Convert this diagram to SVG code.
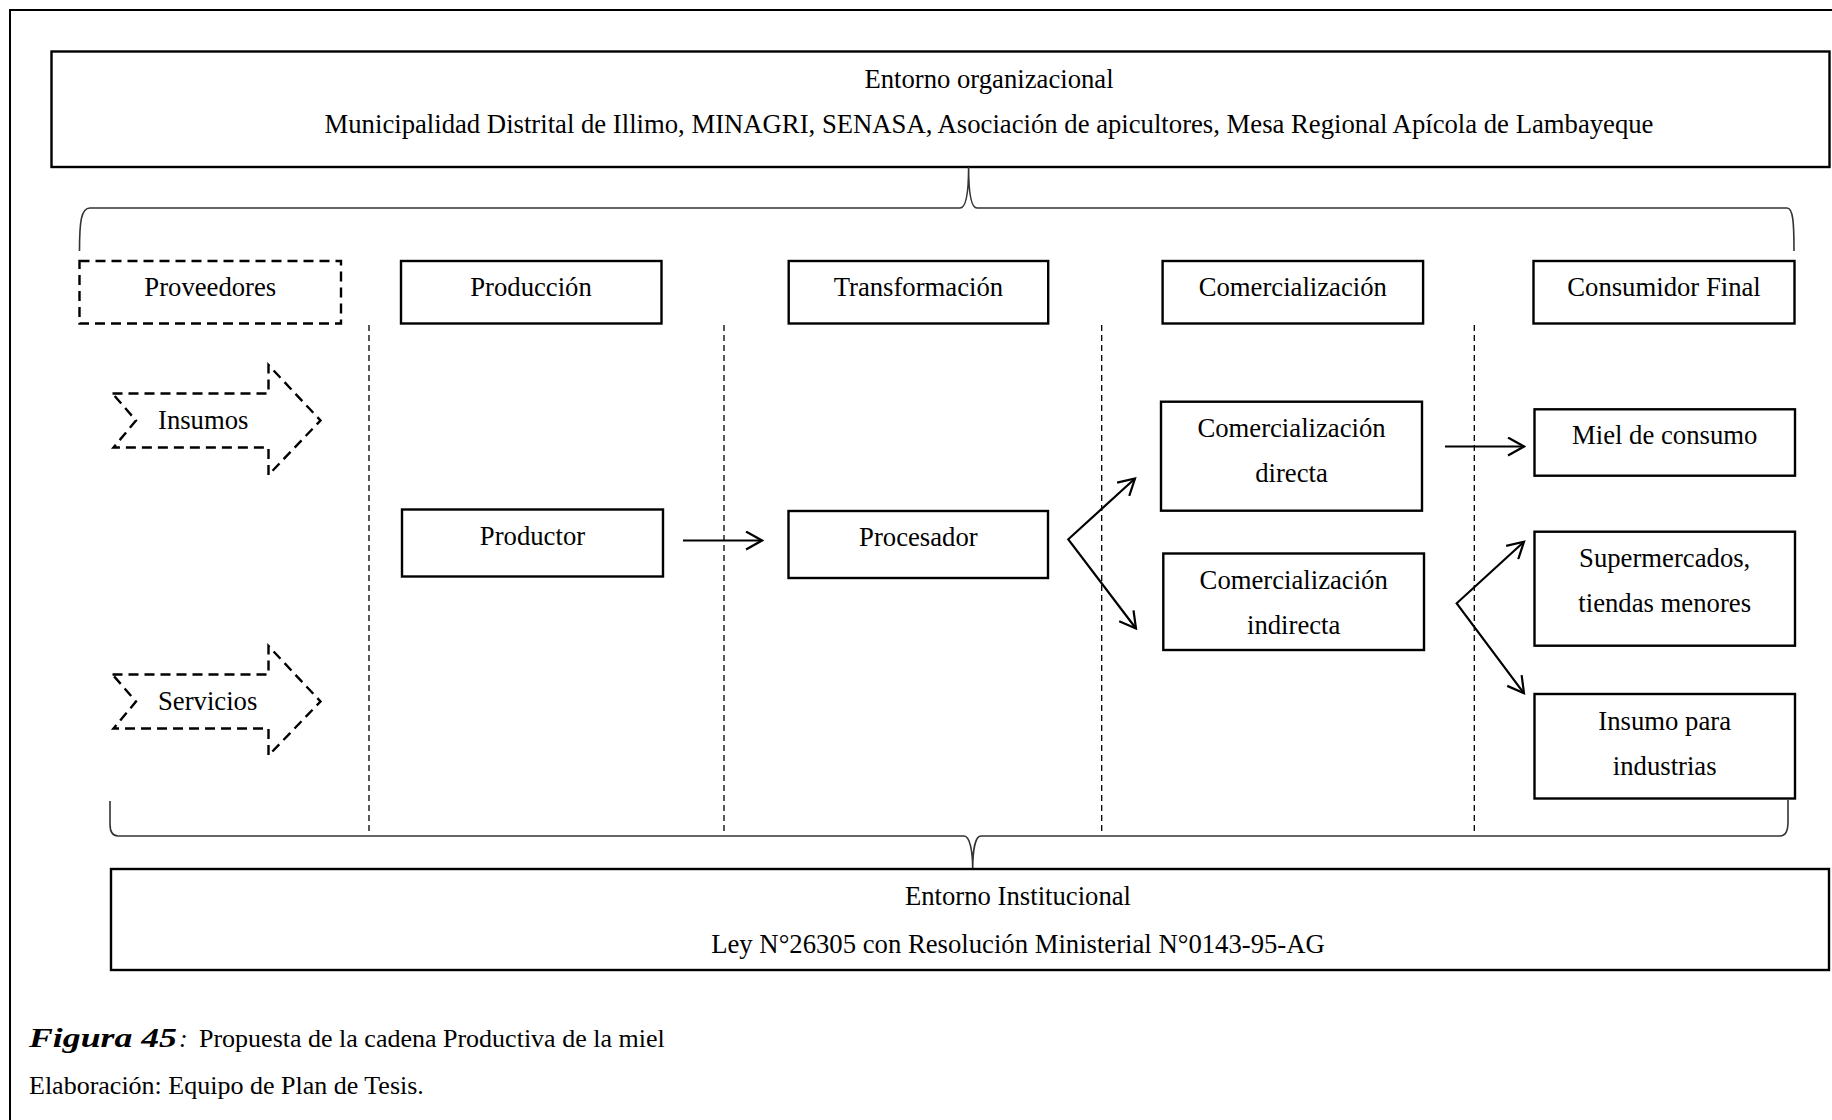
<svg xmlns="http://www.w3.org/2000/svg" width="1832" height="1120" viewBox="0 0 1832 1120">
<style>
text{font-family:"Liberation Serif","Times New Roman",serif;font-size:26.7px;fill:#000}
.c{text-anchor:middle}
.cap{font-size:26px}
.box{fill:#fff;stroke:#000;stroke-width:2.4}
.dbox{fill:none;stroke:#000;stroke-width:2.4;stroke-dasharray:10,6}
.div{stroke:#000;stroke-width:1.3;stroke-dasharray:6,4;fill:none}
.brace{fill:none;stroke:#333;stroke-width:1.6}
.arr{fill:none;stroke:#000;stroke-width:2.2}
</style>
<defs>
<marker id="ah" viewBox="0 0 20 20" refX="18" refY="10" markerWidth="20" markerHeight="20" markerUnits="userSpaceOnUse" orient="auto-start-reverse">
<path d="M2,1 L18,10 L2,19" fill="none" stroke="#000" stroke-width="2.2"/>
</marker>
</defs>
<rect width="1832" height="1120" fill="#fff"/>
<rect x="10" y="10" width="1840" height="1130" fill="none" stroke="#000" stroke-width="2"/>

<g id="entorno-organizacional">
<rect class="box" x="51.5" y="51.5" width="1778" height="115.5"/>
<text class="c" x="989" y="88">Entorno organizacional</text>
<text class="c" x="989" y="133">Municipalidad Distrital de Illimo, MINAGRI, SENASA, Asociación de apicultores, Mesa Regional Apícola de Lambayeque</text>
</g>

<g id="braces">
<path class="brace" d="M79.5,251 C79.5,222 81,208 90,208 L960,208 C966,208 968.6,192 968.6,167 C968.6,192 971,208 977,208 L1787,208 C1793,208 1794,222 1794,251"/>
<path class="brace" d="M110,801 L110,824 C110,832 112,836 118,836 L964,836 C970,836 972.7,852 972.7,869 C972.7,852 975,836 981,836 L1780,836 C1786,836 1788,830 1788,822 L1788,800"/>
</g>

<g id="dividers">
<line class="div" x1="369" y1="325" x2="369" y2="832"/>
<line class="div" x1="724" y1="325" x2="724" y2="832"/>
<line class="div" x1="1101.7" y1="325" x2="1101.7" y2="832"/>
<line class="div" x1="1474.3" y1="325" x2="1474.3" y2="832"/>
</g>

<g id="proveedores">
<rect class="dbox" x="79.5" y="261" width="261.5" height="62.5"/>
<text class="c" x="210.3" y="296">Proveedores</text>
</g>
<g id="produccion">
<rect class="box" x="401" y="261" width="260.5" height="62.5"/>
<text class="c" x="531" y="296">Producción</text>
</g>
<g id="transformacion">
<rect class="box" x="788.7" y="261" width="259.5" height="62.5"/>
<text class="c" x="918.4" y="296">Transformación</text>
</g>
<g id="comercializacion">
<rect class="box" x="1162.6" y="261" width="260.5" height="62.5"/>
<text class="c" x="1292.8" y="296">Comercialización</text>
</g>
<g id="consumidor-final">
<rect class="box" x="1533.5" y="261" width="261" height="62.5"/>
<text class="c" x="1664" y="296">Consumidor Final</text>
</g>

<g id="insumos">
<polygon class="dbox" points="112.5,393.5 268.5,393.5 268.5,365 320.5,420.5 268.5,475 268.5,447.5 113.5,447.5 136,420.5"/>
<text x="158" y="429">Insumos</text>
</g>
<g id="servicios">
<polygon class="dbox" points="112.5,674.5 268.5,674.5 268.5,646 320.5,701.5 268.5,755.5 268.5,728.5 113.5,728.5 136,701.5"/>
<text x="158" y="710">Servicios</text>
</g>

<g id="productor">
<rect class="box" x="402" y="509.5" width="261" height="67"/>
<text class="c" x="532.5" y="545">Productor</text>
</g>
<g id="procesador">
<rect class="box" x="788.5" y="511" width="259.5" height="67"/>
<text class="c" x="918.4" y="546">Procesador</text>
</g>
<g id="comercializacion-directa">
<rect class="box" x="1161" y="401.7" width="261" height="109"/>
<text class="c" x="1291.5" y="436.7">Comercialización</text>
<text class="c" x="1291.5" y="481.7">directa</text>
</g>
<g id="comercializacion-indirecta">
<rect class="box" x="1163.3" y="553.5" width="260.7" height="96.5"/>
<text class="c" x="1293.7" y="589">Comercialización</text>
<text class="c" x="1293.7" y="633.5">indirecta</text>
</g>
<g id="miel-de-consumo">
<rect class="box" x="1534.5" y="409.3" width="260.5" height="66.4"/>
<text class="c" x="1664.7" y="443.5">Miel de consumo</text>
</g>
<g id="supermercados">
<rect class="box" x="1534.5" y="531.7" width="260.5" height="114"/>
<text class="c" x="1664.7" y="566.7">Supermercados,</text>
<text class="c" x="1664.7" y="611.7">tiendas menores</text>
</g>
<g id="insumo-industrias">
<rect class="box" x="1534.5" y="694" width="260.5" height="104.5"/>
<text class="c" x="1664.7" y="730">Insumo para</text>
<text class="c" x="1664.7" y="775">industrias</text>
</g>

<g id="connectors">
<line class="arr" x1="683" y1="540.5" x2="762" y2="540.5" marker-end="url(#ah)"/>
<polyline class="arr" points="1135,478.5 1068.3,539.3 1136,628.5" marker-start="url(#ah)" marker-end="url(#ah)"/>
<line class="arr" x1="1445" y1="446.5" x2="1524" y2="446.5" marker-end="url(#ah)"/>
<polyline class="arr" points="1524,541.7 1456.7,603.3 1524,693.3" marker-start="url(#ah)" marker-end="url(#ah)"/>
</g>

<g id="entorno-institucional">
<rect class="box" x="111" y="869" width="1718" height="101"/>
<text class="c" x="1018" y="905">Entorno Institucional</text>
<text class="c" x="1018" y="953">Ley N°26305 con Resolución Ministerial N°0143-95-AG</text>
</g>

<g id="caption">
<text x="29" y="1047" font-size="28" font-weight="bold" font-style="italic" textLength="148" lengthAdjust="spacingAndGlyphs">Figura 45</text>
<text class="cap" x="179" y="1047" font-style="italic">:</text>
<text class="cap" x="199" y="1047">Propuesta de la cadena Productiva de la miel</text>
<text class="cap" x="29" y="1094">Elaboración: Equipo de Plan de Tesis.</text>
</g>
</svg>
